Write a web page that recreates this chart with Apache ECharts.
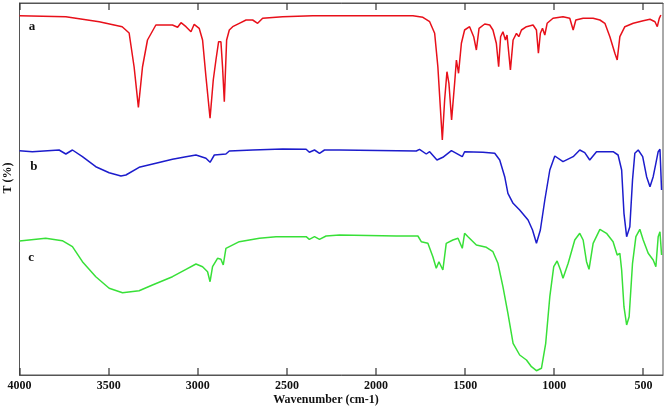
<!DOCTYPE html>
<html>
<head>
<meta charset="utf-8">
<script src="https://cdn.jsdelivr.net/npm/echarts@6/dist/echarts.min.js"></script>
<style>html,body{margin:0;padding:0;background:#fff}#c{width:666px;height:409px}</style>
</head>
<body>
<div id="c"></div>
<script>
// x tick labels (wavenumber, cm-1)
var xTicks = [4000, 3500, 3000, 2500, 2000, 1500, 1000, 500];

// Spectrum a (red)
var waveA = [4000,3740,3553,3424,3385,3357,3333,3310,3282,3235,3142,3113,3094,3066,3038,3020,2992,2973,2954,2931,2913,2898,2883,2870,2861,2851,2838,2823,2804,2767,2729,2692,2664,2636,2524,2355,2205,
  1793,1737,1699,1671,1653,1628,1615,1602,1591,1576,1559,1549,1537,1521,1503,1475,1452,1437,1422,1390,1362,1344,1325,1312,1301,1288,1274,1265,1246,1231,1212,1199,1184,1156,1119,1100,1089,1078,1066,1053,1040,1007,951,913,894,879,838,782,744,716,688,660,647,632,604,557,501,463,435,422,411,402];
var transA = [359.3,358.3,353.3,348.3,342,308,267.7,308,335,350,350,347.7,352.3,348.3,343.3,350.7,346.7,335,298.3,256.7,295,315,333.3,333.3,308.3,273.3,335,345,348.3,351.7,355,355,351.7,356.7,358.3,359.3,359.3,
  359.3,357.7,353.3,341.7,308.3,235,275,303.3,291.7,255,291.7,315,301.7,331.7,345,348.3,338.3,325,346.7,351,350,345,331.7,308.3,338.3,343.3,335,340,305,335,341.7,338.3,345,348.3,350,345,321.7,341.7,346.7,340,351.7,356.7,358.3,356.7,345,355,356.7,356.7,355,351.7,338.3,321.7,315,338.3,348.3,351.7,354.3,355.7,353.3,348.3,356.7,360];

// Spectrum b (blue)
var waveB = [4000,3928,3778,3740,3703,3647,3572,3497,3431,3403,3329,3235,3142,3066,3010,2954,2931,2907,2842,2823,2692,2524,2392,2374,2345,2317,2289,2205,
  1774,1756,1718,1699,1658,1625,1577,1549,1516,1503,1400,1334,1306,1278,1260,1231,1194,1147,1122,1100,1078,1053,1025,997,951,894,857,829,801,763,670,642,622,609,594,576,561,548,529,504,482,463,445,430,417,407,398];
var transB = [224.3,223.3,225,221,225,218.3,208.3,202.3,199,200,207.7,211.7,215.7,218.3,220,216.7,212.7,220,221,224,225,226,225.7,222.7,225,221.7,225,225,
  224,225.7,221,223.3,215,217.7,224.3,221.7,218.3,223.3,222.7,221.7,215,198.3,181.7,171.7,165,155,145,131.7,145,175,205,219,213.3,218.3,225,222.3,215,223.3,223.3,220,205,161.7,138.3,148.3,195,221.7,225,218.3,198.3,188.3,198.3,211.7,223.3,225.7,185];

// Spectrum c (green)
var waveC = [4000,3853,3760,3703,3647,3572,3497,3422,3329,3254,3142,3066,3010,2973,2945,2931,2917,2889,2870,2857,2842,2767,2654,2561,2392,2374,2345,2317,2280,2205,
  1886,1765,1746,1709,1681,1662,1647,1625,1606,1569,1540,1516,1503,1484,1437,1381,1344,1316,1288,1260,1231,1194,1156,1128,1100,1072,1048,1025,1003,984,965,951,922,885,857,838,819,805,782,744,707,670,647,632,622,609,594,580,561,542,520,501,473,445,430,417,407,398];
var transC = [134,136.7,134.3,128.3,113.3,98.3,86.7,82.3,84.3,90,98.3,105.7,111,108.3,103.3,93.3,108.3,116.7,115.7,110,126.7,133.3,136.7,138.3,138.3,135.7,138.3,135.7,139,140,
  139,139,133.3,131.7,118.3,106.7,113.3,105,131.7,135,136.7,126.7,141.7,138.3,130,127.7,123.3,111.7,88.3,61.7,31.7,20,15,8.3,4.3,6.7,31.7,78.3,108.3,114,105,96.7,111.7,135,141.7,135,113.3,105.7,131.7,145.7,141.7,133.3,120,121.7,105,68.3,50,58.3,111.7,138.3,145.7,135,121.7,115,108.3,138.3,143.3,120];

var seriesNames = ['a', 'b', 'c'];
var seriesColors = ['#e8101a', '#1c1ccc', '#38e038'];
var labelWave = [3930, 3920, 3935];
var labelT = [348, 208, 117];

function zip(w, t) { return w.map(function (v, i) { return [v, t[i]]; }); }
var waves = [waveA, waveB, waveC];
var trans = [transA, transB, transC];

var chart = echarts.init(document.getElementById('c'), null, { renderer: 'canvas' });
var font = '"Liberation Serif", "Times New Roman", serif';
var yMin = 0, yMax = 372;

function tickAxis(pos, showLabel) {
  return {
    type: 'value', min: 390, max: 4000, inverse: true, position: pos, splitNumber: 7,
    axisLine: { show: true, onZero: false, lineStyle: { color: '#555', width: 1 } },
    axisTick: { show: false },
    axisLabel: { show: showLabel, color: '#111', fontFamily: font, fontWeight: 'bold', fontSize: 12, margin: 5,
      showMinLabel: false, showMaxLabel: true,
      formatter: function (v) { return xTicks.indexOf(v) >= 0 ? String(v) : ''; } },
    splitLine: { show: false }
  };
}

var option = {
  animation: false,
  backgroundColor: '#fff',
  grid: { left: 19.5, right: 3, top: 3, bottom: 34, show: true, borderColor: '#555', borderWidth: 1, backgroundColor: 'transparent' },
  xAxis: [tickAxis('bottom', true), tickAxis('top', false)],
  yAxis: {
    type: 'value', min: yMin, max: yMax,
    axisLine: { show: true, lineStyle: { color: '#555' } },
    axisTick: { show: false }, axisLabel: { show: false }, splitLine: { show: false }
  },
  series: seriesNames.map(function (n, i) {
    return {
      name: n, type: 'line', xAxisIndex: 0, data: zip(waves[i], trans[i]),
      showSymbol: false, symbol: 'none', smooth: false,
      lineStyle: { color: seriesColors[i], width: 1.5 }
    };
  })
};
chart.setOption(option);

var graphics = seriesNames.map(function (n, i) {
  var p = chart.convertToPixel({ gridIndex: 0 }, [labelWave[i], labelT[i]]);
  return { type: 'text', x: p[0], y: p[1], style: { text: n, fill: '#111', font: 'bold 13px ' + font, align: 'center', verticalAlign: 'middle' } };
});
// tick marks at the tick values, positioned through the x axis scale
xTicks.forEach(function (w) {
  var pb = chart.convertToPixel({ gridIndex: 0 }, [w, yMin]);
  var pt = chart.convertToPixel({ gridIndex: 0 }, [w, yMax]);
  var x = Math.round(pb[0]);
  graphics.push({ type: 'rect', silent: true, z: 100, shape: { x: x - 0.6, y: pb[1] - 7, width: 1.2, height: 7 }, style: { fill: '#333' } });
  graphics.push({ type: 'rect', silent: true, z: 100, shape: { x: x - 0.6, y: pt[1], width: 1.2, height: 7 }, style: { fill: '#333' } });
});
graphics.push({ type: 'text', x: 7.5, y: 178, rotation: Math.PI / 2, style: { text: 'T (%)', fill: '#111', font: 'bold 12px ' + font, align: 'center', verticalAlign: 'middle' } });
graphics.push({ type: 'text', x: 326, y: 400, style: { text: 'Wavenumber (cm-1)', fill: '#111', font: 'bold 12px ' + font, align: 'center', verticalAlign: 'middle' } });
chart.setOption({ graphic: graphics });
</script>
</body>
</html>
